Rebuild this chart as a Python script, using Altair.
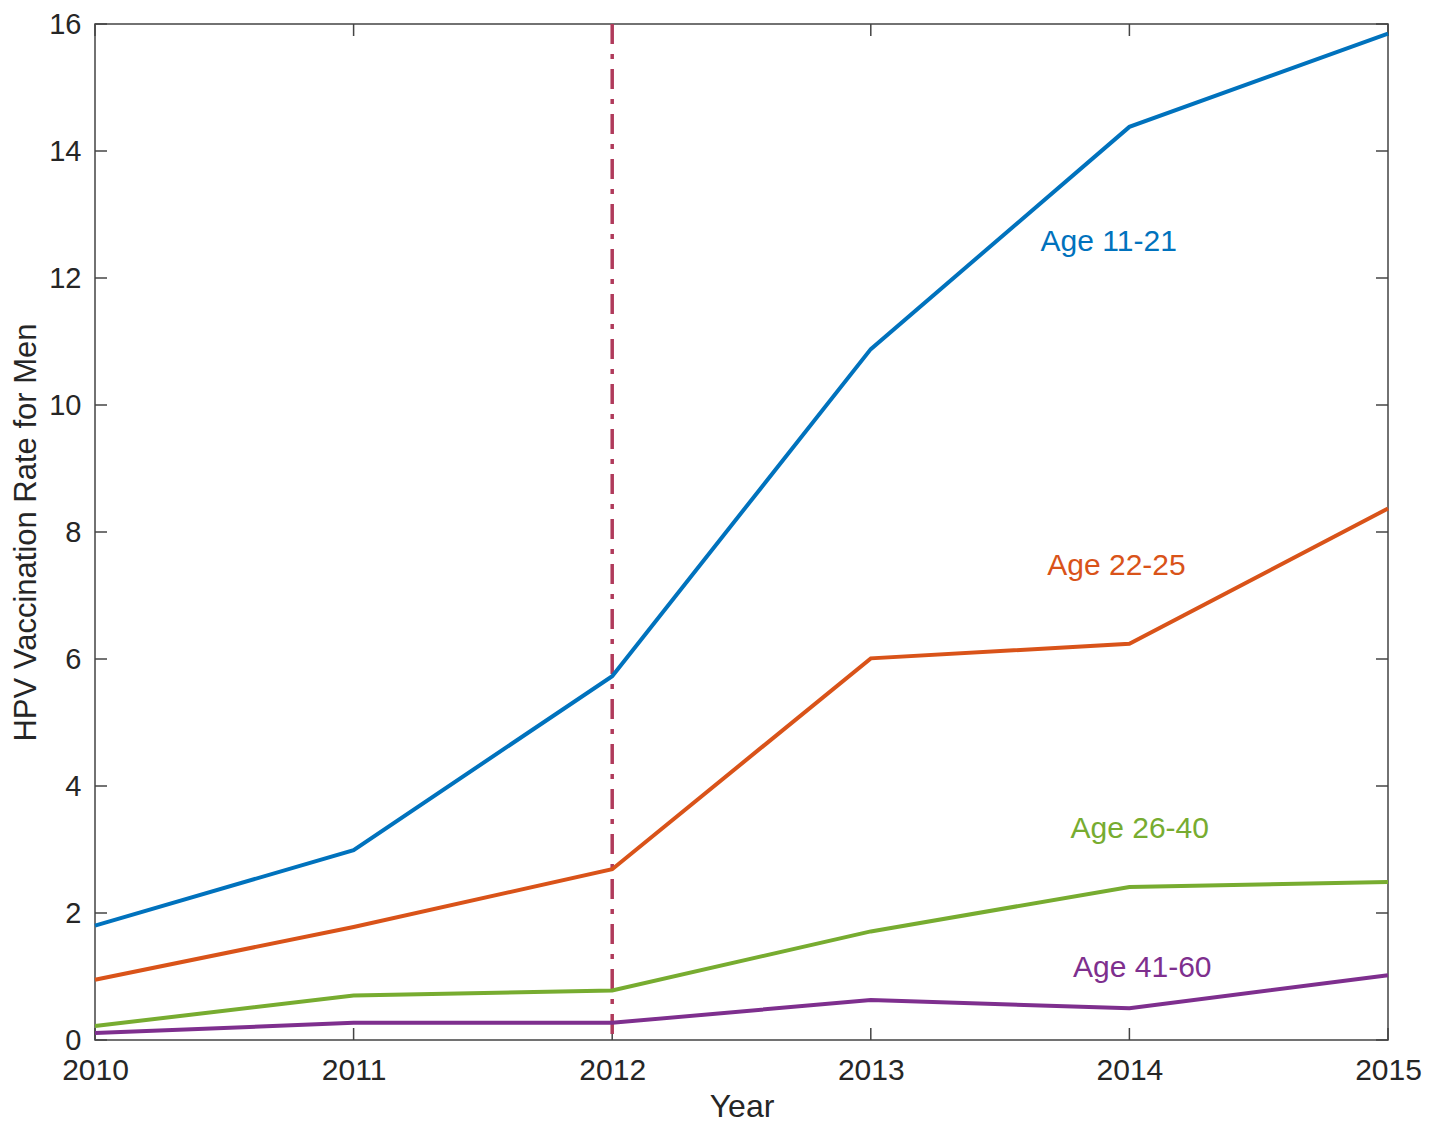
import altair as alt
import pandas as pd

years = [2010, 2011, 2012, 2013, 2014, 2015]
groups = ["Age 11-21", "Age 22-25", "Age 26-40", "Age 41-60"]
age_11_21 = [1.80, 2.99, 5.73, 10.88, 14.38, 15.85]
age_22_25 = [0.95, 1.78, 2.69, 6.01, 6.24, 8.37]
age_26_40 = [0.22, 0.70, 0.78, 1.71, 2.41, 2.49]
age_41_60 = [0.11, 0.27, 0.27, 0.63, 0.50, 1.02]
colors = ["#0072BD", "#D95319", "#77AC30", "#7E2F8E"]

label_x = [2013.92, 2013.95, 2014.04, 2014.05]
label_y = [12.57, 7.46, 3.32, 1.13]

policy_year = [2012]
y_ticks = [0, 2, 4, 6, 8, 10, 12, 14, 16]

W, H = 1293, 1016
TICK = 12
FONT = "Liberation Sans"
INK = "#262626"

rows = []
for g, vals in zip(groups, [age_11_21, age_22_25, age_26_40, age_41_60]):
    for yr, v in zip(years, vals):
        rows.append({"year": yr, "rate": v, "group": g})
df = pd.DataFrame(rows)
labels_df = pd.DataFrame({"group": groups, "x": label_x, "y": label_y})

xscale = alt.Scale(domain=[2010, 2015], nice=False, zero=False)
yscale = alt.Scale(domain=[0, 16], nice=False)
cscale = alt.Scale(domain=groups, range=colors)

xaxis = alt.Axis(values=years, format="d", title="Year", grid=False, ticks=False,
                 domain=False, labelFontSize=30, titleFontSize=32, labelFont=FONT,
                 titleFont=FONT, labelColor=INK, titleColor=INK,
                 labelPadding=15, titlePadding=6, labelFlush=False, titleFontWeight="normal")
yaxis = alt.Axis(values=y_ticks, format="d", title="HPV Vaccination Rate for Men", grid=False,
                 ticks=False, domain=False, labelFontSize=29, titleFontSize=31,
                 labelFont=FONT, titleFont=FONT, labelColor=INK,
                 titleColor=INK, labelPadding=14, titlePadding=6,
                 titleFontWeight="normal")

lines = alt.Chart(df).mark_line(strokeWidth=4).encode(
    x=alt.X("year:Q", scale=xscale, axis=xaxis),
    y=alt.Y("rate:Q", scale=yscale, axis=yaxis),
    color=alt.Color("group:N", scale=cscale, legend=None),
    detail="group:N",
)

vline = alt.Chart(pd.DataFrame({"year": policy_year})).mark_rule(
    color="#B03A5B", strokeWidth=3.5, strokeDash=[20, 10, 5, 10]
).encode(x=alt.X("year:Q", scale=xscale))

texts = alt.Chart(labels_df).mark_text(fontSize=30, font=FONT).encode(
    x=alt.X("x:Q", scale=xscale),
    y=alt.Y("y:Q", scale=yscale),
    text="group:N",
    color=alt.Color("group:N", scale=cscale, legend=None),
)

yt = pd.DataFrame({"v": y_ticks})
xt = pd.DataFrame({"v": years})
tick_style = dict(color="#444444", strokeWidth=1.5)
lt = alt.Chart(yt).mark_rule(**tick_style).encode(
    y=alt.Y("v:Q", scale=yscale), x=alt.value(0), x2=alt.value(TICK))
rt = alt.Chart(yt).mark_rule(**tick_style).encode(
    y=alt.Y("v:Q", scale=yscale), x=alt.value(W - TICK), x2=alt.value(W))
bt = alt.Chart(xt).mark_rule(**tick_style).encode(
    x=alt.X("v:Q", scale=xscale), y=alt.value(H - TICK), y2=alt.value(H))
tt = alt.Chart(xt).mark_rule(**tick_style).encode(
    x=alt.X("v:Q", scale=xscale), y=alt.value(0), y2=alt.value(TICK))

chart = alt.layer(lt, rt, bt, tt, vline, lines, texts).properties(
    width=W, height=H,
    autosize=alt.AutoSizeParams(type="none"),
    padding={"left": 87, "top": 16, "right": 34, "bottom": 85},
    background="white",
).configure_view(stroke="#444444", strokeWidth=1.5)

chart.save("out.html", embed_options={"renderer": "svg", "actions": False})
